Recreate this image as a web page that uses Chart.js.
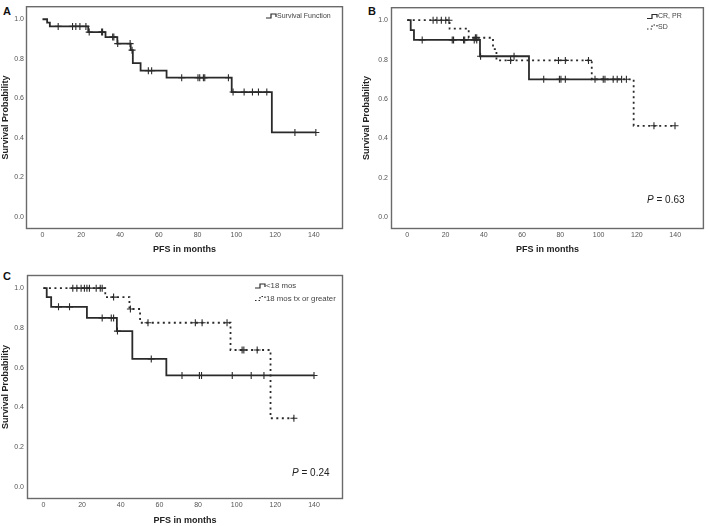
<!DOCTYPE html>
<html>
<head>
<meta charset="utf-8">
<script src="https://cdn.jsdelivr.net/npm/chart.js@4.4.0/dist/chart.umd.min.js"></script>
<style>
  body { margin: 0; background: #fff; width: 709px; height: 526px; position: relative; overflow: hidden; font-family: "Liberation Sans", Arial, sans-serif; }
  canvas { position: absolute; }
  .panel { position: absolute; font-weight: bold; font-size: 11px; line-height: 11px; color: #111; }
</style>
</head>
<body>
<div class="panel" style="left:3px;top:6px">A</div>
<div class="panel" style="left:368px;top:6px">B</div>
<div class="panel" style="left:3px;top:271px">C</div>
<canvas id="chartA" width="350" height="258" style="left:0;top:0"></canvas>
<canvas id="chartB" width="354" height="258" style="left:355px;top:0"></canvas>
<canvas id="chartC" width="350" height="264" style="left:0;top:262px"></canvas>
<script>
const FONT = '"Liberation Sans", Arial, sans-serif'
const INK = '#2a2a2a'

const xTicks = [0, 20, 40, 60, 80, 100, 120, 140]
const yTicks = [0, 0.2, 0.4, 0.6, 0.8, 1.0]

// A - all patients
const aTimes = [0, 2.4, 3.8, 23.6, 32.5, 38.6, 45.5, 46.6, 50.6, 64, 97.6, 118.3, 141]
const aSurv = [1, 0.983, 0.964, 0.935, 0.91, 0.877, 0.844, 0.778, 0.74, 0.705, 0.632, 0.428, 0.428]
const aCens = [8.1, 15.5, 17.2, 19.3, 22.4, 24.1, 30.5, 31, 36.2, 36.8, 38.8, 45.2, 46.2, 54.6, 56.3,
	71.8, 80.2, 81.1, 83, 83.7, 95.9, 98.3, 104, 108.3, 111.4, 115.7, 130.2, 141]

// B - response
const bTimesCR = [0, 1.8, 3.5, 38, 63.6, 112]
const bSurvCR = [1, 0.95, 0.90, 0.817, 0.70, 0.70]
const bCensCR = [7.8, 23.5, 24.2, 29.4, 30, 35, 36.3, 38.3, 55.8, 71.3, 79.5, 80.3, 82.6,
	98.1, 102.4, 103.3, 107.6, 109.7, 112]
const bTimesSD = [0, 22.1, 32.1, 44.8, 46.6, 96.4, 118.3, 139.9]
const bSurvSD = [1, 0.957, 0.911, 0.853, 0.796, 0.70, 0.464, 0.464]
const bCensSD = [13.5, 15.5, 17.8, 20.1, 21.8, 35.6, 36.3, 54, 79, 82.6, 94.7, 114.5, 128.9, 139.9]

// C - treatment duration
const cTimesLow = [0, 1.7, 4, 22.5, 38, 46, 63.6, 140]
const cSurvLow = [1, 0.955, 0.906, 0.85, 0.784, 0.644, 0.561, 0.561]
const cCensLow = [7.8, 13.5, 30.4, 35.1, 36.3, 38.3, 55.8, 71.7, 80.7, 81.8, 97.7, 107.5, 114.1, 140]
const cTimesHigh = [0, 32, 44.5, 50, 96.8, 117.5, 129.6]
const cSurvHigh = [1, 0.955, 0.895, 0.826, 0.689, 0.346, 0.346]
const cCensHigh = [15.2, 17.3, 19.5, 21.2, 22.5, 23.8, 27.3, 29.4, 30.4, 36.3, 45, 54.1,
	78.6, 82.1, 95, 102.8, 103.7, 110.6, 129.6]

function survAt(times, surv, t) {
	let s = surv[0]
	for (let i = 0; i < times.length; i++) {
		if (times[i] <= t) s = surv[i]
	}
	return s
}

function curve(times, surv, dashed) {
	return {
		data: times.map((t, i) => ({x: t, y: surv[i]})),
		stepped: 'before',
		borderColor: INK,
		borderWidth: 1.8,
		borderDash: dashed ? [2, 3.5] : [],
		pointRadius: 0,
		fill: false,
	}
}

function marks(times, surv, cens) {
	return {
		data: cens.map(t => ({x: t, y: survAt(times, surv, t)})),
		showLine: false,
		pointStyle: 'cross',
		pointRadius: 3.5,
		borderColor: INK,
		pointBorderColor: INK,
		pointBorderWidth: 1.1,
	}
}

// frame, legend and p value
const kmExtras = {
	id: 'kmExtras',
	afterDraw(chart, args, opts) {
		const {ctx, chartArea: a} = chart
		ctx.save()
		ctx.strokeStyle = '#6a6a6a'
		ctx.lineWidth = 1.4
		ctx.strokeRect(a.left + 0.5, a.top + 0.5, a.width - 1, a.height - 1)

		ctx.font = opts.legendSize + 'px ' + FONT
		ctx.textBaseline = 'middle'
		ctx.fillStyle = '#444'
		opts.legend.forEach((item, i) => {
			const x = opts.legendX
			const y = opts.legendY + i * opts.legendGap
			ctx.strokeStyle = INK
			ctx.lineWidth = 1.2
			ctx.setLineDash(item.dashed ? [1.5, 2] : [])
			ctx.beginPath()
			ctx.moveTo(x, y + 2)
			ctx.lineTo(x + 5, y + 2)
			ctx.lineTo(x + 5, y - 2)
			ctx.lineTo(x + 10, y - 2)
			ctx.lineTo(x + 10, y + 1)
			ctx.stroke()
			ctx.setLineDash([])
			ctx.fillText(item.label, x + 11, y)
		})

		if (opts.pValue) {
			ctx.fillStyle = '#222'
			ctx.font = 'italic 10px ' + FONT
			ctx.fillText('P', opts.pX, opts.pY)
			const w = ctx.measureText('P').width
			ctx.font = '10px ' + FONT
			ctx.fillText(' = ' + opts.pValue, opts.pX + w, opts.pY)
		}
		ctx.restore()
	},
}

function makeChart(id, datasets, cfg) {
	return new Chart(document.getElementById(id), {
		type: 'line',
		data: {datasets},
		options: {
			responsive: false,
			animation: false,
			layout: {padding: cfg.padding},
			plugins: {
				legend: {display: false},
				tooltip: {enabled: false},
				kmExtras: cfg.extras,
			},
			scales: {
				x: {
					type: 'linear',
					min: -8.5,
					max: 155,
					grid: {display: false, drawTicks: false},
					border: {display: false},
					ticks: {font: {size: 7, family: FONT}, color: '#555', padding: 2},
					afterBuildTicks: s => { s.ticks = xTicks.map(v => ({value: v})) },
					afterFit: s => { s.height = cfg.xHeight },
					title: {
						display: true,
						text: 'PFS in months',
						font: {size: 9, weight: 'bold', family: FONT},
						color: '#222',
						padding: {top: 0, bottom: cfg.xTitlePad},
					},
				},
				y: {
					min: -0.06,
					max: 1.066,
					grid: {display: false, drawTicks: false},
					border: {display: false},
					ticks: {
						font: {size: 7, family: FONT},
						color: '#555',
						padding: cfg.yTickPad,
						callback: v => v.toFixed(1),
					},
					afterBuildTicks: s => { s.ticks = yTicks.map(v => ({value: v})) },
					afterFit: s => { s.width = cfg.yWidth },
					title: {
						display: true,
						text: 'Survival Probability',
						font: {size: 9, weight: 'bold', family: FONT},
						color: '#222',
						padding: {top: cfg.yTitlePad, bottom: 0},
					},
				},
			},
		},
		plugins: [kmExtras],
	})
}

makeChart('chartA', [
	curve(aTimes, aSurv, false),
	marks(aTimes, aSurv, aCens),
], {
	padding: {top: 2, right: 7, left: 0, bottom: 0},
	xHeight: 29, yWidth: 26, yTickPad: 2, yTitlePad: 0, xTitlePad: 2.6,
	extras: {
		legend: [{label: 'Survival Function', dashed: false}],
		legendX: 266, legendY: 16, legendGap: 11, legendSize: 7,
	},
})

makeChart('chartB', [
	curve(bTimesSD, bSurvSD, true),
	marks(bTimesSD, bSurvSD, bCensSD),
	curve(bTimesCR, bSurvCR, false),
	marks(bTimesCR, bSurvCR, bCensCR),
], {
	padding: {top: 2, right: 4, left: 0, bottom: 0},
	xHeight: 29, yWidth: 36, yTickPad: 3, yTitlePad: 6.6, xTitlePad: 2.6,
	extras: {
		legend: [{label: 'CR, PR', dashed: false}, {label: 'SD', dashed: true}],
		legendX: 292, legendY: 16.5, legendGap: 10.5, legendSize: 7,
		pValue: '0.63', pX: 292, pY: 200,
	},
})

makeChart('chartC', [
	curve(cTimesHigh, cSurvHigh, true),
	marks(cTimesHigh, cSurvHigh, cCensHigh),
	curve(cTimesLow, cSurvLow, false),
	marks(cTimesLow, cSurvLow, cCensLow),
], {
	padding: {top: 13, right: 7, left: 0, bottom: 0},
	xHeight: 27, yWidth: 27, yTickPad: 3, yTitlePad: 0, xTitlePad: 0,
	extras: {
		legend: [{label: '<18 mos', dashed: false}, {label: '18 mos tx or greater', dashed: true}],
		legendX: 255, legendY: 24, legendGap: 12.5, legendSize: 7.8,
		pValue: '0.24', pX: 292, pY: 211.5,
	},
})
</script>
</body>
</html>
